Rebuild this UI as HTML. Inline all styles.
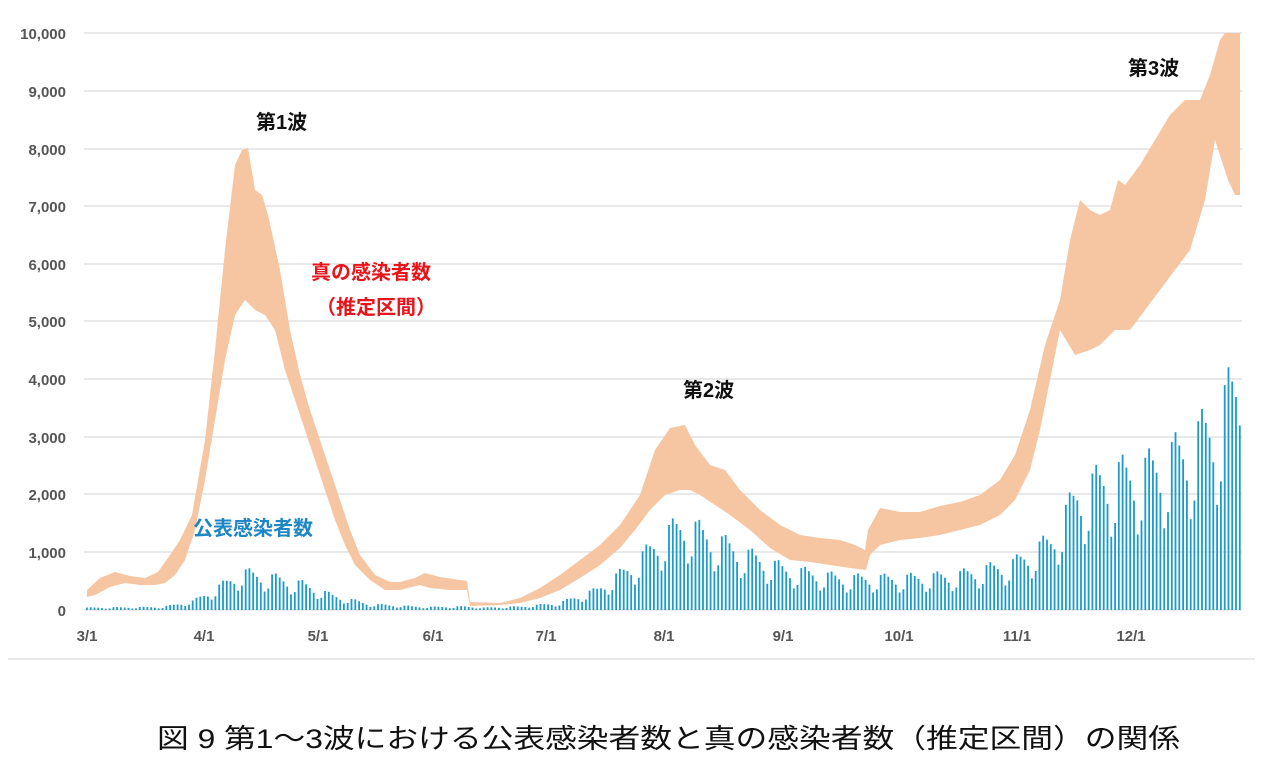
<!DOCTYPE html>
<html><head><meta charset="utf-8"><style>
html,body{margin:0;padding:0;background:#fff;}
svg{display:block;}
text{font-family:"Liberation Sans","Noto Sans CJK JP",sans-serif;}
</style></head><body>
<svg id="s" width="1263" height="761" viewBox="0 0 1263 761" xmlns="http://www.w3.org/2000/svg">
<g stroke="#dcdcdc" stroke-width="1.2">
<line x1="84" y1="33" x2="1242" y2="33"/><line x1="84" y1="91" x2="1242" y2="91"/>
<line x1="84" y1="149" x2="1242" y2="149"/><line x1="84" y1="206" x2="1242" y2="206"/>
<line x1="84" y1="264" x2="1242" y2="264"/><line x1="84" y1="321" x2="1242" y2="321"/>
<line x1="84" y1="379" x2="1242" y2="379"/><line x1="84" y1="437" x2="1242" y2="437"/>
<line x1="84" y1="494" x2="1242" y2="494"/><line x1="84" y1="552" x2="1242" y2="552"/>
<line x1="84" y1="610" x2="1242" y2="610"/>
<line x1="8" y1="659" x2="1255" y2="659"/>
</g>
<g font-size="15" font-weight="bold" fill="#555" text-anchor="end">
<text x="66" y="39">10,000</text><text x="66" y="97">9,000</text><text x="66" y="155">8,000</text>
<text x="66" y="212">7,000</text><text x="66" y="270">6,000</text><text x="66" y="327">5,000</text>
<text x="66" y="385">4,000</text><text x="66" y="443">3,000</text><text x="66" y="500">2,000</text>
<text x="66" y="558">1,000</text><text x="66" y="616">0</text>
</g>
<g font-size="15" font-weight="bold" fill="#555" text-anchor="middle">
<text x="87" y="641">3/1</text><text x="204" y="641">4/1</text><text x="318" y="641">5/1</text>
<text x="433" y="641">6/1</text><text x="546" y="641">7/1</text><text x="664" y="641">8/1</text>
<text x="783" y="641">9/1</text><text x="899" y="641">10/1</text><text x="1017" y="641">11/1</text>
<text x="1131" y="641">12/1</text>
</g>
<polygon fill="#f6c5a2" points="87,590 100,578 115,572 130,576 145,578 158,572 170,555 180,540 192,515 205,440 215,350 225,250 235,165 242,150 248,148 255,190 262,195 268,215 280,270 290,330 300,375 310,410 320,440 330,470 340,500 350,530 360,555 375,575 390,582 400,582 415,578 425,573 440,577 460,580 467,581 470,602 500,603 520,598 540,588 560,575 580,560 600,545 620,525 640,495 655,450 670,428 685,425 695,445 710,465 725,470 740,490 760,510 780,525 800,535 820,538 840,540 855,545 865,550 868,530 880,508 900,512 920,512 940,506 960,502 980,495 1000,480 1015,455 1030,410 1045,345 1060,300 1070,240 1080,200 1090,210 1100,215 1110,210 1118,180 1125,185 1140,165 1155,140 1170,115 1185,100 1200,100 1210,75 1220,40 1225,33 1240,33 1240,195 1235,195 1228,180 1215,140 1205,200 1190,250 1175,270 1160,290 1145,310 1130,330 1115,330 1100,345 1090,350 1075,355 1060,330 1050,380 1040,430 1030,470 1015,500 1000,515 980,525 960,530 940,535 920,538 900,540 880,545 870,555 866,570 850,568 830,565 810,562 790,560 770,548 750,530 730,515 715,505 700,495 690,490 680,490 665,495 650,510 635,530 620,548 600,565 580,578 560,590 540,598 520,603 500,605 470,606 467,590 450,590 430,588 420,585 400,590 385,590 370,580 355,565 345,545 335,520 325,490 315,460 305,430 295,400 285,370 275,330 265,315 255,310 245,300 235,315 225,360 215,420 205,480 195,530 185,560 175,575 165,583 155,585 140,585 125,583 110,587 95,595 87,597"/>
<g id="bars" fill="#1c9bc8"></g>
<g font-size="20" font-weight="bold">
<text x="256" y="129" fill="#111">第1波</text>
<text x="683" y="397" fill="#111">第2波</text>
<text x="1128" y="75" fill="#111">第3波</text>
<text x="311" y="279" fill="#e8141b">真の感染者数</text>
<text x="316" y="314" fill="#e8141b">（推定区間）</text>
<text x="193" y="535" fill="#1d86c4">公表感染者数</text>
</g>
<text x="157" y="748" font-size="27" fill="#111" textLength="1023" lengthAdjust="spacingAndGlyphs">図 9  第1～3波における公表感染者数と真の感染者数（推定区間）の関係</text>
</svg>
<script>
var kp=[[0,40],[20,50],[28,150],[35,400],[41,650],[50,550],[57,450],[65,250],[75,100],[90,50],[100,60],[105,40],[115,60],[125,120],[135,350],[145,800],[153,1300],[158,1500],[165,1250],[175,950],[185,700],[200,550],[215,550],[230,600],[245,800],[255,1200],[262,2000],[270,2300],[280,2400],[290,2750],[298,3200],[305,4000]];
function val(d){for(var i=0;i<kp.length-1;i++){if(d>=kp[i][0]&&d<=kp[i+1][0]){var t=(d-kp[i][0])/(kp[i+1][0]-kp[i][0]);return kp[i][1]+t*(kp[i+1][1]-kp[i][1]);}}return 4000;}
var wf=[1.1,1.15,1.05,0.95,0.8,0.55,0.65];
var g=document.getElementById('bars'),h='';
for(var d=0;d<=305;d++){var v=val(d)*wf[d%7];var ht=v*0.0577;var x=86+d*3.78;h+='<rect x="'+x.toFixed(1)+'" y="'+(610-ht).toFixed(1)+'" width="1.8" height="'+ht.toFixed(1)+'"/>';}
g.innerHTML=h;
</script>
</body></html>
